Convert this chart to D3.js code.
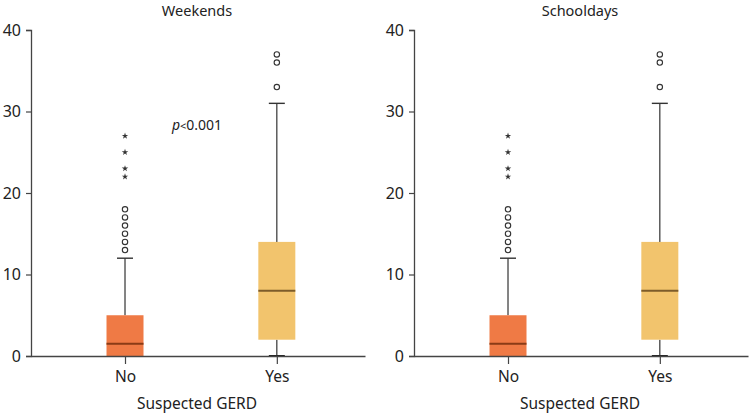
<!DOCTYPE html>
<html><head><meta charset="utf-8">
<script src="https://cdn.jsdelivr.net/npm/d3@7"></script>
<style>body{margin:0;background:#fff;} svg{display:block;font-family:"Noto Sans",sans-serif;}</style>
</head><body><svg id="c" width="750" height="415"></svg>
<script>
const panels = ["Weekends", "Schooldays"];
const categories = ["No", "Yes"];
const q1 = [0, 2];
const medians = [1.5, 8];
const q3 = [5, 14];
const whiskerLow = [0, 0];
const whiskerHigh = [12, 31];
const outliersNo = [13, 14, 15, 16, 17, 18];
const outliersYes = [33, 36, 37];
const extremesNo = [22, 23, 25, 27];
const extremesYes = [];
const yTicks = [0, 10, 20, 30, 40];
const boxColors = ["#EF7A45", "#F2C46D"];
const medianColors = ["#8A3B16", "#7D5C2A"];
const xTitle = "Suspected GERD";

const svg = d3.select("#c");
const panelLeft = [31, 414];
const plotW = 334;
const y = d3.scaleLinear().domain([0, 40]).range([356, 30]);
const axisColor = "#444";
const FONT = "'Noto Sans', sans-serif";

panels.forEach((title, pi) => {
  const x0 = panelLeft[pi];
  const g = svg.append("g").attr("transform", `translate(${x0},0)`);
  const x = d3.scalePoint().domain(categories).range([0, plotW]).padding(0.6).align(0.516);

  const ya = g.append("g").call(d3.axisLeft(y).tickValues(yTicks).tickSize(5).tickPadding(5));
  ya.select(".domain").attr("stroke", axisColor).attr("stroke-width", 1.3);
  ya.selectAll(".tick line").attr("stroke", axisColor).attr("stroke-width", 1.2);
  ya.selectAll(".tick text").attr("font-size", 16).attr("fill", "#222").attr("font-family", FONT);

  categories.forEach((c, i) => {
    const cx = x(c);
    const bw = 37, cw = 16;
    const wc = "#333";
    g.append("line").attr("x1", cx).attr("x2", cx).attr("y1", y(q3[i])).attr("y2", y(whiskerHigh[i])).attr("stroke", wc).attr("stroke-width", 1.2);
    g.append("line").attr("x1", cx - cw/2).attr("x2", cx + cw/2).attr("y1", y(whiskerHigh[i])).attr("y2", y(whiskerHigh[i])).attr("stroke", wc).attr("stroke-width", 1.4);
    if (q1[i] > whiskerLow[i]) {
      g.append("line").attr("x1", cx).attr("x2", cx).attr("y1", y(q1[i])).attr("y2", y(whiskerLow[i])).attr("stroke", wc).attr("stroke-width", 1.2);
      g.append("line").attr("x1", cx - cw/2).attr("x2", cx + cw/2).attr("y1", y(whiskerLow[i])).attr("y2", y(whiskerLow[i])).attr("stroke", "#222").attr("stroke-width", 2);
    }
    g.append("rect").attr("x", cx - bw/2).attr("width", bw).attr("y", y(q3[i])).attr("height", y(q1[i]) - y(q3[i])).attr("fill", boxColors[i]);
    g.append("line").attr("x1", cx - bw/2).attr("x2", cx + bw/2).attr("y1", y(medians[i])).attr("y2", y(medians[i])).attr("stroke", medianColors[i]).attr("stroke-width", 2);

    const outs = i === 0 ? outliersNo : outliersYes;
    g.selectAll(null).data(outs).enter().append("circle")
      .attr("cx", cx).attr("cy", d => y(d)).attr("r", 2.7)
      .attr("fill", "none").attr("stroke", "#333").attr("stroke-width", 1.1);
    const ext = i === 0 ? extremesNo : extremesYes;
    g.selectAll(null).data(ext).enter().append("path")
      .attr("d", d3.symbol(d3.symbolStar, 13)())
      .attr("transform", d => `translate(${cx},${y(d)})`)
      .attr("fill", "#333");
  });

  const xa = g.append("g").attr("transform", `translate(0,${y(0)})`).call(d3.axisBottom(x).tickSize(8).tickPadding(7).tickSizeOuter(0));
  xa.select(".domain").attr("stroke", axisColor).attr("stroke-width", 1.3);
  xa.selectAll(".tick line").attr("stroke", axisColor).attr("stroke-width", 1.2);
  xa.selectAll(".tick text").attr("font-size", 15.5).attr("fill", "#222").attr("font-family", FONT);

  g.append("text").attr("x", plotW / 2 - 1).attr("y", 16).attr("text-anchor", "middle")
    .attr("font-size", 14.5).attr("fill", "#222").text(title);
  g.append("text").attr("x", plotW / 2 - 1).attr("y", 409).attr("text-anchor", "middle")
    .attr("font-size", 15.5).attr("fill", "#222").text(xTitle);

  if (pi === 0) {
    const t = g.append("text").attr("x", plotW / 2 - 1).attr("y", 130).attr("text-anchor", "middle")
      .attr("font-size", 14).attr("fill", "#222");
    t.append("tspan").attr("font-style", "italic").text("p");
    t.append("tspan").attr("font-size", 11).text("<");
    t.append("tspan").text("0.001");
  }
});
</script></body></html>
